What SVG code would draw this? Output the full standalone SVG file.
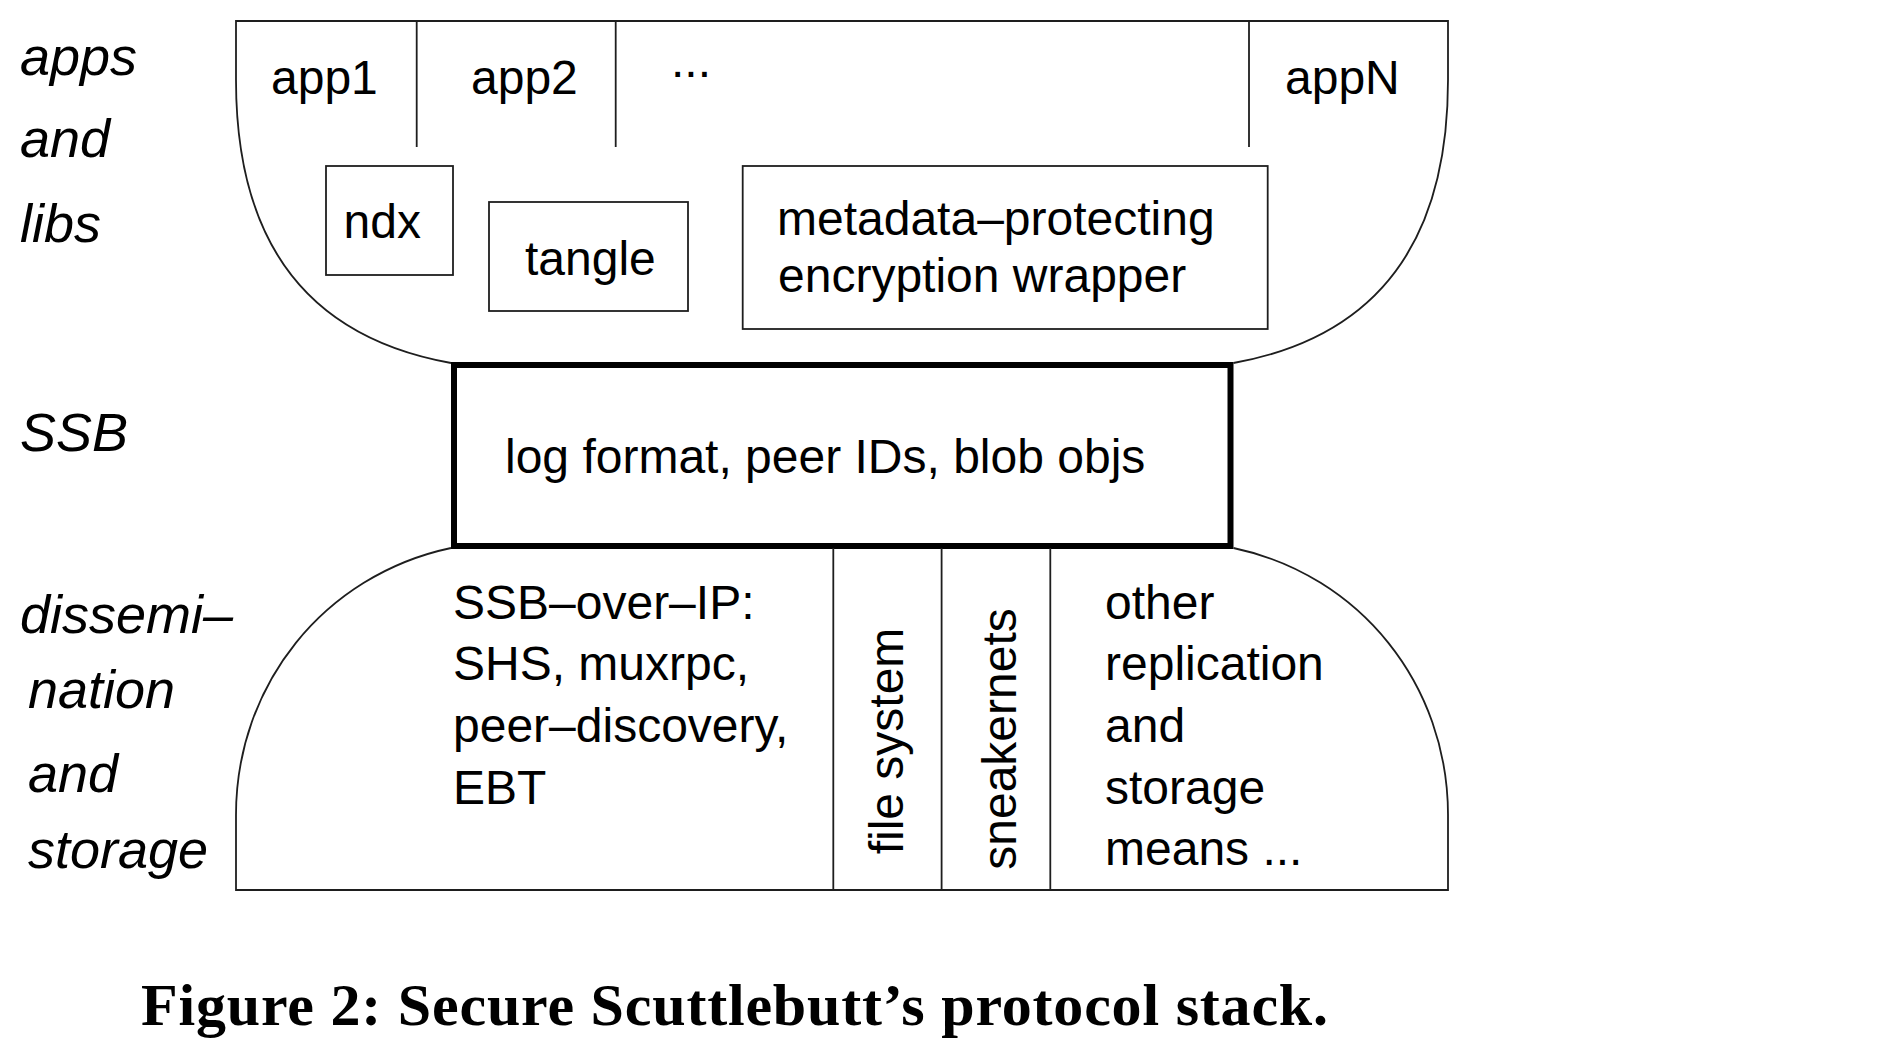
<svg xmlns="http://www.w3.org/2000/svg" width="1888" height="1050" viewBox="0 0 1888 1050">
<style>
  .thin { fill: none; stroke: #1e1e1e; stroke-width: 1.8; }
  .thick { fill: none; stroke: #000; stroke-width: 6; }
  .t { font-family: "Liberation Sans", Arial, Helvetica, sans-serif; font-size: 48px; fill: #000; }
  .lbl { font-family: "Liberation Sans", Arial, Helvetica, sans-serif; font-size: 54px; font-style: italic; fill: #000; }
  .cap { font-family: "Liberation Serif", "Times New Roman", serif; font-size: 60px; font-weight: bold; fill: #000; }
</style>
<rect x="0" y="0" width="1888" height="1050" fill="#fff"/>

<g id="layer-labels">
  <text class="lbl" x="20" y="75">apps</text>
  <text class="lbl" x="20" y="157">and</text>
  <text class="lbl" x="20" y="242">libs</text>
  <text class="lbl" x="20" y="451">SSB</text>
  <text class="lbl" x="20" y="633">dissemi–</text>
  <text class="lbl" x="28" y="708">nation</text>
  <text class="lbl" x="28" y="792">and</text>
  <text class="lbl" x="28" y="868">storage</text>
</g>

<g id="apps-and-libs">
  <path class="thin" d="M451,363 C323,340 236,260 236,80 L236,21 L1448,21 L1448,80 C1448,260 1361,340 1233.5,363"/>
  <g id="app-dividers">
    <line class="thin" x1="416.7" y1="21" x2="416.7" y2="147"/>
    <line class="thin" x1="615.7" y1="21" x2="615.7" y2="147"/>
    <line class="thin" x1="1249" y1="21" x2="1249" y2="147"/>
  </g>
  <text class="t" x="271" y="94">app1</text>
  <text class="t" x="471" y="94">app2</text>
  <text class="t" x="671" y="77">...</text>
  <text class="t" x="1285" y="94">appN</text>
</g>

<g id="ndx">
  <rect class="thin" x="326" y="166" width="127" height="109"/>
  <text class="t" x="343.5" y="238">ndx</text>
</g>

<g id="tangle">
  <rect class="thin" x="489" y="202" width="199" height="109"/>
  <text class="t" x="525" y="275">tangle</text>
</g>

<g id="encryption-wrapper">
  <rect class="thin" x="742.7" y="166" width="525" height="163"/>
  <text class="t" x="777" y="235">metadata–protecting</text>
  <text class="t" x="778" y="292">encryption wrapper</text>
</g>

<g id="ssb">
  <rect class="thick" x="454" y="365" width="776.5" height="181"/>
  <text class="t" x="505" y="473">log format, peer IDs, blob objs</text>
</g>

<g id="dissemination-and-storage">
  <path class="thin" d="M451,548 C324,575 236,685 236,815 L236,890 L1448,890 L1448,815 C1448,685 1360.5,575 1233.5,548"/>
  <g id="storage-dividers">
    <line class="thin" x1="833.3" y1="548" x2="833.3" y2="890"/>
    <line class="thin" x1="941.6" y1="548" x2="941.6" y2="890"/>
    <line class="thin" x1="1050.3" y1="548" x2="1050.3" y2="890"/>
  </g>
</g>

<g id="ssb-over-ip">
  <text class="t" x="453" y="618.5">SSB–over–IP:</text>
  <text class="t" x="453" y="680.2">SHS, muxrpc,</text>
  <text class="t" x="453" y="741.9">peer–discovery,</text>
  <text class="t" x="453" y="803.6">EBT</text>
</g>

<g id="file-system">
  <text class="t" text-anchor="middle" transform="translate(903,741) rotate(-90)">file system</text>
</g>

<g id="sneakernets">
  <text class="t" text-anchor="middle" transform="translate(1016,739) rotate(-90)">sneakernets</text>
</g>

<g id="other-means">
  <text class="t" x="1105" y="618.5">other</text>
  <text class="t" x="1105" y="680.2">replication</text>
  <text class="t" x="1105" y="741.9">and</text>
  <text class="t" x="1105" y="803.6">storage</text>
  <text class="t" x="1105" y="865.3">means ...</text>
</g>

<g id="connectors"></g>

<text class="cap" x="141" y="1025" textLength="1187" lengthAdjust="spacing">Figure 2: Secure Scuttlebutt’s protocol stack.</text>
</svg>
